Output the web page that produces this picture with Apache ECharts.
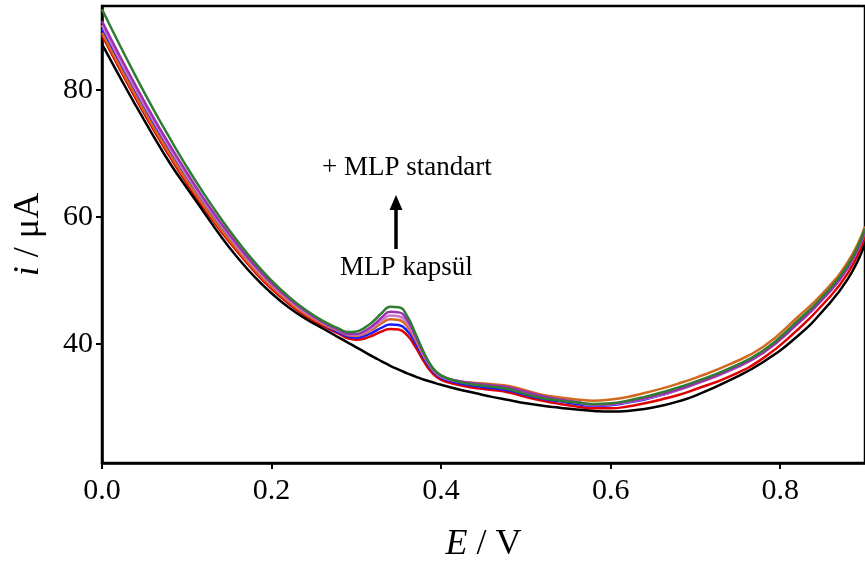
<!DOCTYPE html>
<html>
<head>
<meta charset="utf-8">
<script src="https://cdn.jsdelivr.net/npm/echarts@6/dist/echarts.min.js"></script>
<style>
  html, body { margin: 0; padding: 0; background: #fff; }
  #dpv { width: 865px; height: 568px; }
</style>
</head>
<body>
<div id="dpv"></div>
<script>
// potansiyel (V)
const potential = [0, 0.02, 0.04, 0.06, 0.08, 0.10, 0.12, 0.14, 0.16, 0.18, 0.20, 0.22, 0.24, 0.26, 0.28,
  0.29, 0.30, 0.31, 0.32, 0.33, 0.34, 0.35, 0.36, 0.37, 0.38, 0.39, 0.40,
  0.42, 0.44, 0.46, 0.48, 0.50, 0.52, 0.54, 0.56, 0.58, 0.60, 0.62, 0.64, 0.66, 0.68, 0.70,
  0.74, 0.78, 0.82, 0.85, 0.88, 0.90];

// akim (uA)
const blank = [87.2, 82.3, 77.5, 72.9, 68.5, 64.6, 60.8, 57.0, 53.6, 50.6, 48.0, 45.8, 44.0, 42.5, 41.0,
  40.25, 39.5, 38.75, 38.0, 37.3, 36.6, 36.0, 35.4, 34.9, 34.4, 34.0, 33.6,
  32.9, 32.3, 31.7, 31.2, 30.7, 30.3, 30.0, 29.7, 29.5, 29.4, 29.5, 29.8, 30.3, 31.0, 31.9,
  34.3, 37.2, 41.2, 45.2, 50.3, 55.8];
const capsule = [88.6, 83.5, 78.6, 73.9, 69.5, 65.3, 61.4, 57.8, 54.5, 51.4, 48.7, 46.4, 44.4, 42.9, 41.6,
  40.9, 40.7, 40.9, 41.4, 42.0, 42.4, 42.3, 41.4, 39.5, 37.2, 35.4, 34.4,
  33.6, 33.1, 32.8, 32.4, 31.7, 31.1, 30.6, 30.2, 29.9, 29.9, 30.2, 30.7, 31.3, 32.0, 32.9,
  34.9, 37.8, 42.2, 46.2, 51.2, 56.9];
const add1 = [89.6, 84.5, 79.6, 74.9, 70.4, 66.2, 62.2, 58.5, 55.1, 51.9, 49.2, 46.8, 44.8, 43.2, 41.8,
  41.2, 41.0, 41.3, 41.9, 42.6, 43.1, 43.0, 42.1, 40.1, 37.7, 35.8, 34.7,
  33.9, 33.4, 33.1, 32.7, 32.0, 31.4, 31.0, 30.6, 30.3, 30.4, 30.8, 31.3, 32.0, 32.8, 33.8,
  35.9, 38.7, 43.2, 47.1, 52.1, 57.8];
const add2 = [89.0, 83.9, 79.0, 74.3, 69.9, 65.7, 61.8, 58.1, 54.8, 51.7, 49.0, 46.7, 44.7, 43.2, 42.0,
  41.4, 41.3, 41.7, 42.4, 43.3, 43.9, 43.8, 42.8, 40.6, 38.0, 36.0, 34.9,
  34.2, 33.9, 33.7, 33.4, 32.7, 32.0, 31.6, 31.3, 31.1, 31.3, 31.7, 32.3, 33.0, 33.8, 34.7,
  36.8, 39.6, 44.2, 48.0, 53.0, 58.5];
const add3 = [90.2, 85.0, 80.0, 75.3, 70.8, 66.5, 62.5, 58.8, 55.3, 52.1, 49.4, 47.0, 45.0, 43.4, 42.1,
  41.5, 41.4, 41.9, 42.7, 43.7, 44.5, 44.4, 43.3, 40.9, 38.2, 36.1, 34.9,
  34.1, 33.7, 33.4, 33.1, 32.4, 31.7, 31.2, 30.8, 30.4, 30.5, 30.9, 31.4, 32.0, 32.8, 33.7,
  35.8, 38.6, 43.1, 47.0, 52.0, 57.7];
const add4 = [90.8, 85.6, 80.6, 75.8, 71.3, 67.0, 62.9, 59.1, 55.6, 52.4, 49.6, 47.2, 45.2, 43.5, 42.2,
  41.6, 41.6, 42.1, 43.0, 44.2, 45.1, 45.0, 43.8, 41.2, 38.4, 36.2, 35.0,
  34.2, 33.8, 33.5, 33.2, 32.5, 31.8, 31.3, 30.9, 30.5, 30.6, 31.0, 31.5, 32.1, 32.9, 33.8,
  35.9, 38.7, 43.2, 47.1, 52.1, 57.8];
const add5 = [92.7, 87.3, 82.1, 77.1, 72.4, 67.9, 63.7, 59.8, 56.2, 52.9, 50.0, 47.5, 45.4, 43.7, 42.4,
  41.9, 42.0, 42.6, 43.6, 44.9, 45.9, 45.8, 44.4, 41.6, 38.6, 36.3, 35.1,
  34.1, 33.6, 33.3, 32.9, 32.1, 31.5, 31.1, 30.8, 30.6, 30.7, 31.1, 31.7, 32.4, 33.2, 34.1,
  36.2, 39.0, 43.6, 47.5, 52.5, 58.2];

const curves = [
  { name: "blank", values: blank, color: "#000000" },
  { name: "kapsul", values: capsule, color: "#e00000" },
  { name: "std1", values: add1, color: "#1a1aff" },
  { name: "std2", values: add2, color: "#d2691e" },
  { name: "std3", values: add3, color: "#cc77cc" },
  { name: "std4", values: add4, color: "#9b30b0" },
  { name: "std5", values: add5, color: "#2e7d32" }
];
const xTicks = [0, 0.2, 0.4, 0.6, 0.8];
const yTicks = [40, 60, 80];

const font = "'Liberation Serif', 'DejaVu Serif', serif";
const chart = echarts.init(document.getElementById("dpv"));

const series = curves.map(c => ({
  name: c.name,
  type: "line",
  data: potential.map((x, i) => [x, c.values[i]]),
  showSymbol: false,
  smooth: 0.5,
  lineStyle: { color: c.color, width: 2.5 },
  z: c.name === "blank" ? 3 : 2
}));

const option = {
  animation: false,
  grid: {
    left: 102, right: -3, top: 6, bottom: 104,
    show: true, borderColor: "#000", borderWidth: 2.5
  },
  xAxis: {
    type: "value",
    min: 0, max: 0.9,
    name: "{i|E} / V",
    nameLocation: "middle",
    nameGap: 64,
    nameTextStyle: {
      fontFamily: font, fontSize: 36, color: "#000",
      rich: { i: { fontFamily: font, fontSize: 36, fontStyle: "italic", color: "#000" } }
    },
    axisLine: { lineStyle: { color: "#000", width: 2.5 } },
    axisTick: { show: true, length: 6, lineStyle: { width: 2, color: "#000" }, customValues: xTicks },
    axisLabel: {
      customValues: xTicks, fontFamily: font, fontSize: 30, color: "#000", margin: 13,
      formatter: v => v.toFixed(1)
    },
    splitLine: { show: false }
  },
  yAxis: {
    type: "value",
    min: 21.3, max: 93.2,
    name: "{i|i} / μA",
    nameLocation: "middle",
    nameGap: 55,
    nameRotate: 90,
    nameTextStyle: {
      fontFamily: font, fontSize: 36, color: "#000",
      rich: { i: { fontFamily: font, fontSize: 36, fontStyle: "italic", color: "#000" } }
    },
    axisLine: { show: true, lineStyle: { color: "#000", width: 2.5 } },
    axisTick: { show: true, length: 6, lineStyle: { width: 2, color: "#000" }, customValues: yTicks },
    axisLabel: { customValues: yTicks, fontFamily: font, fontSize: 30, color: "#000", margin: 9 },
    splitLine: { show: false }
  },
  graphic: [
    {
      type: "text", left: 322, top: 154,
      style: { text: "+ MLP standart", fontFamily: font, fontSize: 27, fill: "#000" }
    },
    {
      type: "text", left: 340, top: 254,
      style: { text: "MLP kapsül", fontFamily: font, fontSize: 27, fill: "#000" }
    },
    {
      type: "line",
      shape: { x1: 396, y1: 249, x2: 396, y2: 208 },
      style: { stroke: "#000", lineWidth: 3.5 }
    },
    {
      type: "polygon",
      shape: { points: [[389.5, 210], [402.5, 210], [396, 195]] },
      style: { fill: "#000" }
    }
  ],
  series: series
};
chart.setOption(option);
window.addEventListener("resize", chart.resize);
</script>
</body>
</html>
